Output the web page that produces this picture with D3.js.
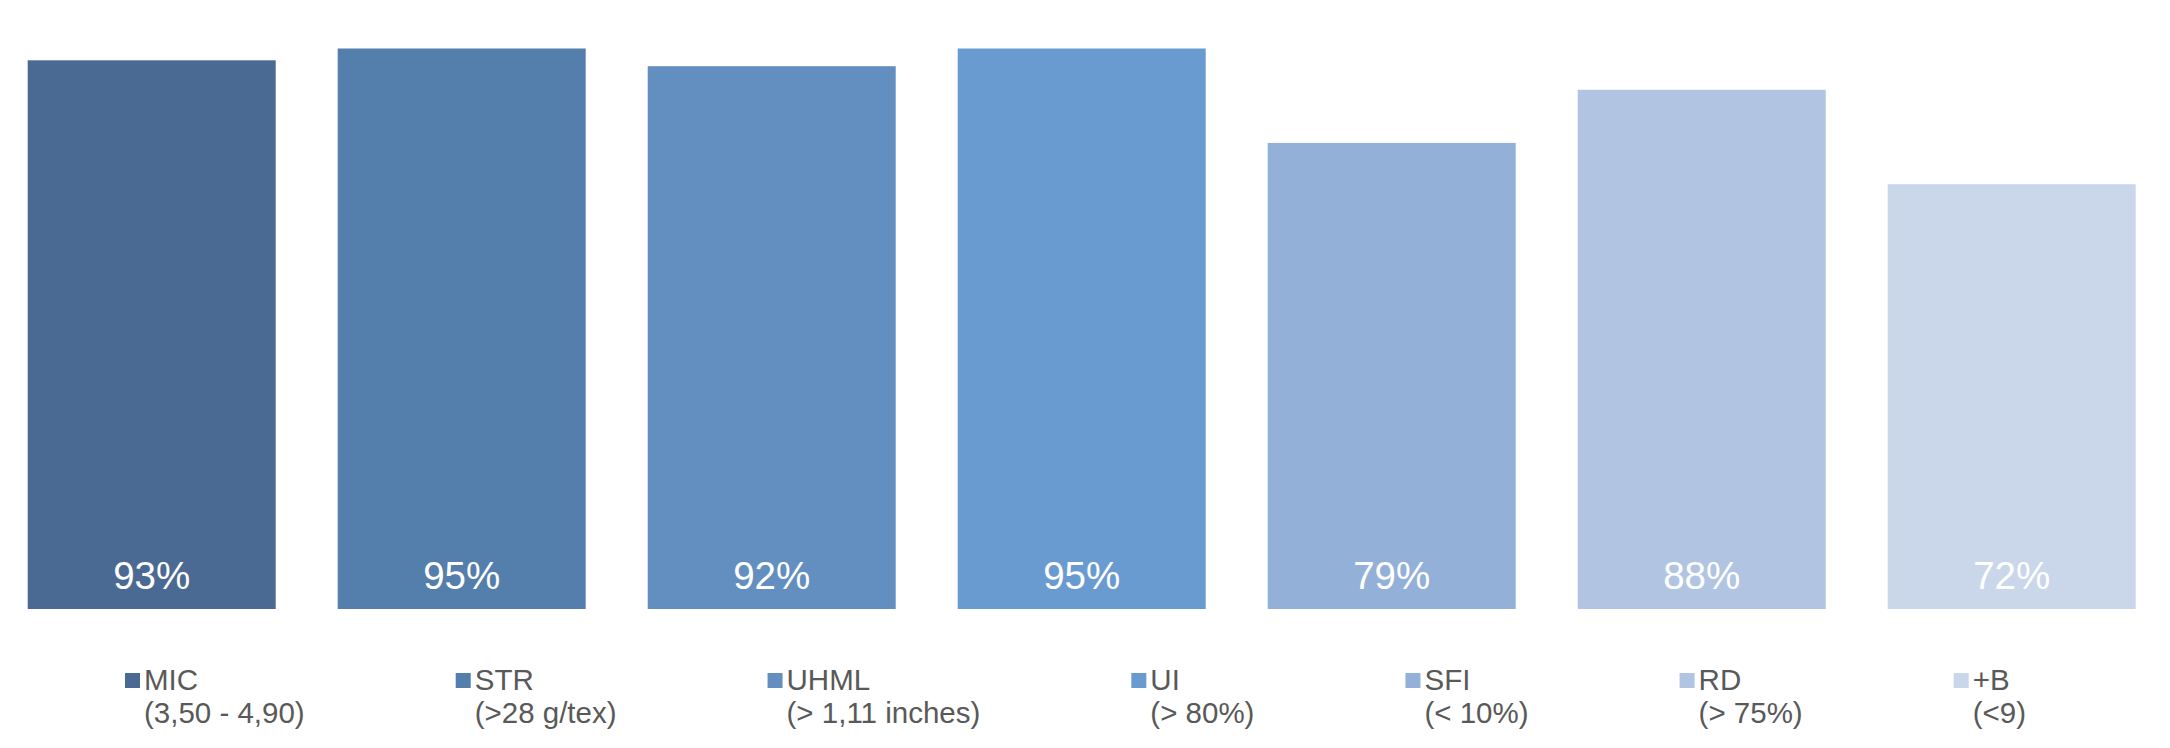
<!DOCTYPE html>
<html>
<head>
<meta charset="utf-8">
<script src="https://cdn.jsdelivr.net/npm/d3@7"></script>
<style>
  html, body { margin: 0; padding: 0; background: #ffffff; }
  svg { display: block; }
</style>
</head>
<body>
<svg id="chart" width="2170" height="748"></svg>
<script>
const categories = ["MIC", "STR", "UHML", "UI", "SFI", "RD", "+B"];
const subLabels = ["(3,50 - 4,90)", "(>28 g/tex)", "(> 1,11 inches)", "(> 80%)", "(< 10%)", "(> 75%)", "(<9)"];
const values = [0.93, 0.95, 0.92, 0.95, 0.79, 0.88, 0.72];
const colors = ["#4A6A93", "#547EAC", "#628FC0", "#6A9BD0", "#93B0D8", "#B1C5E3", "#CAD7EA"];

const W = 2170, H = 748;
const svg = d3.select("#chart");
const font = "'Liberation Sans', Arial, sans-serif";

const x = d3.scaleBand()
  .domain(categories)
  .range([-3.3, 2166.7])
  .paddingInner(0.2)
  .paddingOuter(0.1);

const y = d3.scaleLinear()
  .domain([0, 1])
  .range([609, 19]);

const color = d3.scaleOrdinal().domain(categories).range(colors);

const data = categories.map((c, i) => ({ cat: c, sub: subLabels[i], v: values[i] }));

// Bars
svg.append("g").selectAll("rect")
  .data(data)
  .join("rect")
  .attr("x", d => x(d.cat))
  .attr("y", d => y(d.v))
  .attr("width", x.bandwidth())
  .attr("height", d => y(0) - y(d.v))
  .attr("fill", d => color(d.cat));

// Value labels
svg.append("g").selectAll("text")
  .data(data)
  .join("text")
  .attr("x", d => x(d.cat) + x.bandwidth() / 2)
  .attr("y", y(0) - 20)
  .attr("text-anchor", "middle")
  .attr("font-family", font)
  .attr("font-size", 38.5)
  .attr("fill", "#ffffff")
  .text(d => d3.format(".0%")(d.v));

// Legend
const legend = svg.append("g");
const items = legend.selectAll("g")
  .data(data)
  .join("g");

items.append("rect")
  .attr("x", 0)
  .attr("y", 673)
  .attr("width", 15)
  .attr("height", 15)
  .attr("fill", d => color(d.cat));

const txt = items.append("text")
  .attr("font-family", font)
  .attr("font-size", 29.5)
  .attr("fill", "#595959");
txt.append("tspan").attr("x", 19).attr("y", 690).text(d => d.cat);
txt.append("tspan").attr("x", 19).attr("y", 723).text(d => d.sub);

// lay out legend items horizontally using measured text widths
const gap = 151;
let cx = 125;
items.each(function() {
  const g = d3.select(this);
  g.attr("transform", `translate(${cx},0)`);
  const w = 19 + this.querySelector("text").getBBox().width;
  cx += w + gap;
});
</script>
</body>
</html>
